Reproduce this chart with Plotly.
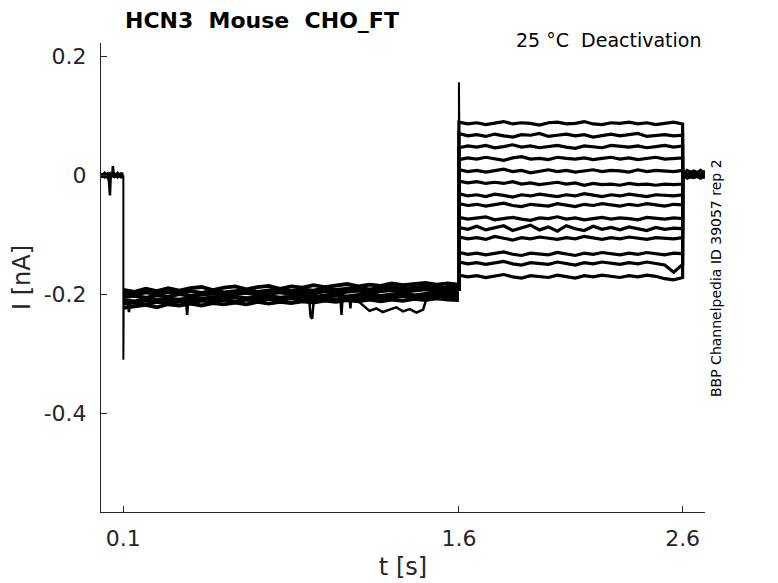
import plotly.graph_objects as go

# HCN3 deactivation protocol, current traces
# times in s, currents in nA

# holding before the prepulse (0 - 0.1 s)
T_PRE = [0.0, 0.008, 0.016, 0.024, 0.03, 0.034, 0.037, 0.04, 0.043, 0.05, 0.053, 0.058, 0.066, 0.074, 0.082, 0.09, 0.1]
I_PRE = [
    [0.001, -0.002, 0.002, -0.001, 0.001, -0.002, -0.018, -0.034, -0.004, 0.001, -0.002, 0.002, -0.001, 0.001, -0.002, 0.001, 0.000],
    [-0.004, -0.001, -0.004, -0.002, -0.005, -0.002, -0.003, -0.004, -0.003, -0.002, 0.015, -0.004, -0.001, -0.004, -0.002, -0.004, -0.003],
    [0.003, 0.000, 0.004, 0.001, 0.003, 0.000, 0.002, 0.003, 0.001, 0.003, 0.000, 0.003, 0.001, 0.004, 0.001, 0.003, 0.002],
]

# capacitive transients at the voltage steps
T_ON = [0.1, 0.1, 0.1015]
I_ON = [0.0, -0.310, -0.212]
T_STEP = [1.6, 1.6, 1.6015]
I_STEP = [-0.194, 0.156, 0.088]

# prepulse band (0.1 - 1.6 s), all sweeps overlap here
T_HOLD = [0.1, 0.15, 0.2, 0.25, 0.3, 0.35, 0.4, 0.45, 0.5, 0.55, 0.6, 0.65, 0.7, 0.75, 0.8, 0.85,
          0.9, 0.95, 1.0, 1.05, 1.1, 1.15, 1.2, 1.25, 1.3, 1.35, 1.4, 1.45, 1.5, 1.55, 1.6]
I_HOLD = [
    [-0.193, -0.196, -0.191, -0.195, -0.190, -0.194, -0.190, -0.188, -0.193, -0.189, -0.187, -0.192, -0.188, -0.186, -0.191,
     -0.187, -0.189, -0.185, -0.188, -0.186, -0.183, -0.187, -0.184, -0.186, -0.182, -0.185, -0.183, -0.181, -0.184, -0.182, -0.184],
    [-0.199, -0.201, -0.197, -0.200, -0.196, -0.199, -0.195, -0.198, -0.194, -0.197, -0.195, -0.193, -0.196, -0.194, -0.191,
     -0.195, -0.192, -0.194, -0.190, -0.193, -0.191, -0.189, -0.192, -0.190, -0.188, -0.191, -0.189, -0.187, -0.190, -0.188, -0.189],
    [-0.205, -0.203, -0.206, -0.202, -0.204, -0.200, -0.203, -0.201, -0.199, -0.202, -0.200, -0.198, -0.201, -0.199, -0.197,
     -0.200, -0.197, -0.199, -0.195, -0.198, -0.196, -0.194, -0.197, -0.195, -0.193, -0.196, -0.194, -0.192, -0.195, -0.193, -0.194],
    [-0.210, -0.212, -0.208, -0.210, -0.207, -0.209, -0.206, -0.208, -0.205, -0.207, -0.204, -0.207, -0.205, -0.203, -0.206,
     -0.204, -0.202, -0.205, -0.202, -0.201, -0.204, -0.201, -0.199, -0.203, -0.200, -0.198, -0.202, -0.199, -0.197, -0.200, -0.199],
    [-0.216, -0.214, -0.217, -0.213, -0.215, -0.212, -0.214, -0.211, -0.213, -0.210, -0.212, -0.209, -0.211, -0.208, -0.210,
     -0.207, -0.210, -0.208, -0.206, -0.209, -0.206, -0.207, -0.204, -0.207, -0.205, -0.203, -0.206, -0.204, -0.202, -0.205, -0.204],
    [-0.223, -0.220, -0.218, -0.222, -0.217, -0.219, -0.216, -0.219, -0.215, -0.217, -0.214, -0.217, -0.213, -0.216, -0.213,
     -0.215, -0.212, -0.214, -0.211, -0.213, -0.210, -0.212, -0.209, -0.212, -0.209, -0.211, -0.208, -0.210, -0.207, -0.209, -0.210],
]

# one sweep with extra downward glitches in the prepulse
T_DIP = [0.1, 0.12, 0.125, 0.13, 0.2, 0.38, 0.385, 0.39, 0.6, 0.93, 0.937, 0.944, 0.952, 1.07, 1.075, 1.08,
         1.11, 1.115, 1.12, 1.18, 1.2, 1.23, 1.26, 1.29, 1.32, 1.35, 1.38, 1.41, 1.44, 1.46, 1.6]
I_DIP = [-0.212, -0.213, -0.230, -0.214, -0.211, -0.212, -0.235, -0.210, -0.206, -0.205, -0.238, -0.241, -0.206,
         -0.203, -0.235, -0.204, -0.203, -0.224, -0.202, -0.222, -0.228, -0.224, -0.230, -0.226, -0.222, -0.229,
         -0.225, -0.231, -0.226, -0.201, -0.197]

# test pulse (1.6 - 2.6 s), 14 sweeps
T_TEST = [1.6, 1.64, 1.68, 1.72, 1.76, 1.8, 1.84, 1.88, 1.92, 1.96, 2.0, 2.04, 2.08,
          2.12, 2.16, 2.2, 2.24, 2.28, 2.32, 2.36, 2.4, 2.44, 2.48, 2.52, 2.56, 2.6]
I_TEST = [
    [0.089, 0.086, 0.088, 0.085, 0.087, 0.090, 0.086, 0.088, 0.087, 0.084, 0.088, 0.089, 0.086,
     0.087, 0.090, 0.086, 0.085, 0.088, 0.087, 0.089, 0.086, 0.088, 0.085, 0.087, 0.089, 0.086],
    [0.070, 0.066, 0.068, 0.065, 0.069, 0.066, 0.064, 0.068, 0.067, 0.070, 0.065, 0.067, 0.069,
     0.066, 0.068, 0.064, 0.067, 0.069, 0.066, 0.068, 0.070, 0.065, 0.067, 0.068, 0.066, 0.067],
    [0.046, 0.049, 0.047, 0.050, 0.046, 0.048, 0.051, 0.047, 0.049, 0.046, 0.048, 0.050, 0.047,
     0.045, 0.049, 0.048, 0.046, 0.050, 0.048, 0.047, 0.049, 0.046, 0.048, 0.050, 0.047, 0.049],
    [0.026, 0.029, 0.027, 0.030, 0.028, 0.025, 0.029, 0.031, 0.027, 0.028, 0.026, 0.030, 0.028,
     0.027, 0.029, 0.026, 0.028, 0.030, 0.027, 0.029, 0.026, 0.028, 0.030, 0.027, 0.028, 0.029],
    [0.009, 0.006, 0.008, 0.005, 0.007, 0.010, 0.006, 0.008, 0.004, 0.007, 0.009, 0.006, 0.008,
     0.005, 0.007, 0.009, 0.006, 0.008, 0.007, 0.005, 0.009, 0.006, 0.008, 0.007, 0.006, 0.008],
    [-0.010, -0.013, -0.011, -0.014, -0.012, -0.014, -0.011, -0.015, -0.013, -0.016, -0.014, -0.012, -0.015,
     -0.013, -0.017, -0.014, -0.016, -0.015, -0.017, -0.014, -0.016, -0.015, -0.017, -0.015, -0.016, -0.015],
    [-0.031, -0.035, -0.033, -0.036, -0.032, -0.034, -0.037, -0.033, -0.035, -0.032, -0.034, -0.036, -0.033,
     -0.035, -0.031, -0.034, -0.036, -0.033, -0.035, -0.032, -0.034, -0.036, -0.033, -0.034, -0.035, -0.033],
    [-0.048, -0.051, -0.049, -0.052, -0.050, -0.047, -0.051, -0.053, -0.049, -0.050, -0.052, -0.048, -0.050,
     -0.053, -0.049, -0.051, -0.048, -0.050, -0.052, -0.049, -0.051, -0.048, -0.050, -0.052, -0.049, -0.050],
    [-0.071, -0.074, -0.072, -0.070, -0.075, -0.073, -0.071, -0.074, -0.076, -0.072, -0.073, -0.070, -0.074,
     -0.072, -0.075, -0.073, -0.071, -0.074, -0.072, -0.073, -0.075, -0.071, -0.073, -0.074, -0.072, -0.073],
    [-0.088, -0.091, -0.086, -0.092, -0.089, -0.085, -0.093, -0.088, -0.084, -0.092, -0.087, -0.094, -0.085,
     -0.090, -0.093, -0.086, -0.091, -0.088, -0.092, -0.087, -0.090, -0.093, -0.088, -0.091, -0.089, -0.090],
    [-0.104, -0.107, -0.105, -0.108, -0.103, -0.106, -0.109, -0.105, -0.107, -0.104, -0.106, -0.108, -0.105,
     -0.107, -0.103, -0.106, -0.108, -0.105, -0.107, -0.104, -0.106, -0.108, -0.105, -0.106, -0.107, -0.105],
    [-0.130, -0.133, -0.131, -0.134, -0.132, -0.129, -0.133, -0.135, -0.131, -0.132, -0.134, -0.130, -0.132,
     -0.135, -0.131, -0.133, -0.130, -0.132, -0.134, -0.131, -0.133, -0.130, -0.132, -0.134, -0.131, -0.132],
    [-0.146, -0.149, -0.147, -0.150, -0.148, -0.145, -0.149, -0.151, -0.147, -0.148, -0.150, -0.146, -0.148,
     -0.151, -0.147, -0.149, -0.146, -0.148, -0.150, -0.147, -0.149, -0.146, -0.148, -0.151, -0.163, -0.150],
    [-0.168, -0.171, -0.169, -0.172, -0.170, -0.167, -0.171, -0.173, -0.169, -0.170, -0.172, -0.168, -0.170,
     -0.173, -0.169, -0.171, -0.168, -0.170, -0.172, -0.169, -0.171, -0.168, -0.170, -0.174, -0.176, -0.172],
]

# back to holding after the test pulse (2.6 - 2.7 s)
T_POST = [2.6, 2.61, 2.62, 2.635, 2.65, 2.665, 2.68, 2.69, 2.7]
I_POST = [
    [0.007, 0.004, 0.008, 0.005, 0.007, 0.004, 0.008, 0.005, 0.006],
    [0.002, 0.004, 0.001, 0.003, 0.000, 0.003, 0.001, 0.004, 0.002],
    [-0.002, 0.000, -0.003, -0.001, -0.002, 0.001, -0.003, 0.000, -0.002],
    [-0.004, -0.002, -0.005, -0.003, -0.004, -0.002, -0.005, -0.003, -0.004],
]

TICK_X = [0.1, 1.6, 2.6]
TICK_Y = [0.2, 0, -0.2, -0.4]
TICK_Y_TEXT = ['0.2', '0', '-0.2', '-0.4']

FONT = 'DejaVu Sans'
INK = '#262626'
LW = 3.2

# page body adds 8 px on the top/left, so the figure box is shifted back by that
PAD = 8
W, H = 778, 583
L, T = 101 - PAD, 43 - PAD
R = W - (705 - PAD)
B = H - (512 - PAD)
PW, PH = W - L - R, H - T - B


def px_x(x):
    return (x - PAD - L) / PW


def px_y(y):
    return (H - (y - PAD) - B) / PH


fig = go.Figure()


def add_line(x, y, width=LW):
    fig.add_trace(go.Scatter(x=x, y=y, mode='lines', line=dict(color='black', width=width),
                             showlegend=False, hoverinfo='skip'))


for vals in I_PRE:
    add_line(T_PRE, vals, 2.5)
add_line(T_ON, I_ON, 2)
for vals in I_HOLD:
    add_line(T_HOLD, vals, 3.8)
add_line(T_DIP, I_DIP, 2.5)
for vals in I_TEST:
    add_line([1.6] + T_TEST + [2.6], [I_HOLD[2][-1]] + vals + [I_POST[1][0]])
for vals in I_POST:
    add_line(T_POST, vals)
add_line(T_STEP, I_STEP, 2)

axis_common = dict(
    ticks='inside', ticklen=6, tickcolor=INK, showline=True, linecolor=INK, linewidth=1,
    showgrid=False, zeroline=False, automargin=False,
    tickfont=dict(family=FONT, size=22, color=INK),
)

fig.update_layout(
    width=W, height=H,
    margin=dict(l=L, r=R, t=T, b=B),
    paper_bgcolor='white', plot_bgcolor='white',
    font=dict(family=FONT, color=INK),
    xaxis=dict(
        range=[0, 2.7], tickvals=TICK_X, ticktext=[str(v) for v in TICK_X], ticklabelstandoff=7,
        title=dict(text='t [s]', font=dict(size=24, color=INK), standoff=7),
        **axis_common,
    ),
    yaxis=dict(
        range=[-0.566, 0.222], tickvals=TICK_Y, ticktext=TICK_Y_TEXT, ticklabelstandoff=9,
        title=dict(text='I [nA]', font=dict(size=24, color=INK), standoff=10),
        **axis_common,
    ),
    annotations=[
        dict(text='<b>HCN3\u00a0 Mouse\u00a0 CHO_FT</b>', x=px_x(262), y=px_y(21),
             xref='paper', yref='paper', xanchor='center', yanchor='middle', showarrow=False,
             borderpad=0, font=dict(family=FONT, size=22, color='black')),
        dict(text='25 °C\u00a0 Deactivation', x=px_x(703), y=px_y(40),
             xref='paper', yref='paper', xanchor='right', yanchor='middle', showarrow=False,
             font=dict(family=FONT, size=19, color='black')),
        dict(text='BBP Channelpedia ID 39057 rep 2', x=px_x(716), y=px_y(278),
             xref='paper', yref='paper', xanchor='center', yanchor='middle', textangle=-90,
             showarrow=False, font=dict(family=FONT, size=14, color='black')),
    ],
)

fig.write_html("out.html")
